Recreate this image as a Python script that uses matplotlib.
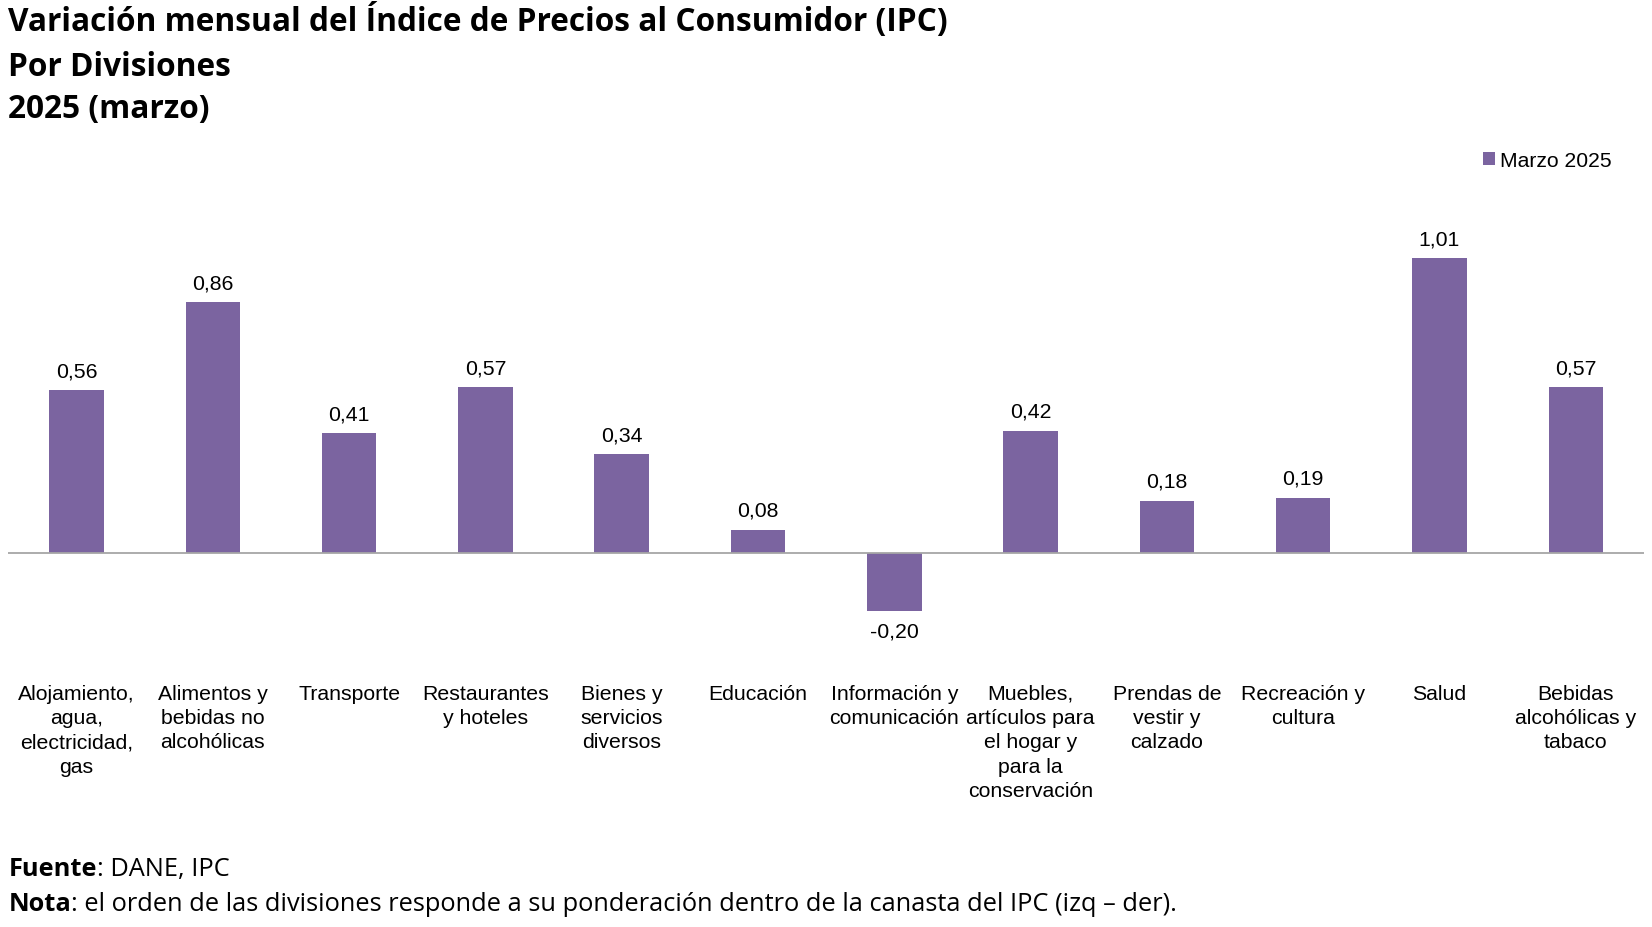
import matplotlib.pyplot as plt
from matplotlib.patches import Patch

# Data
divisiones = [
    "Alojamiento,\nagua,\nelectricidad,\ngas",
    "Alimentos y\nbebidas no\nalcohólicas",
    "Transporte",
    "Restaurantes\ny hoteles",
    "Bienes y\nservicios\ndiversos",
    "Educación",
    "Información y\ncomunicación",
    "Muebles,\nartículos para\nel hogar y\npara la\nconservación",
    "Prendas de\nvestir y\ncalzado",
    "Recreación y\ncultura",
    "Salud",
    "Bebidas\nalcohólicas y\ntabaco",
]
variacion = [0.56, 0.86, 0.41, 0.57, 0.34, 0.08, -0.20, 0.42, 0.18, 0.19, 1.01, 0.57]
serie = "Marzo 2025"

bar_color = "#7B64A0"
label_font = "Liberation Sans"
title_font = "Open Sans"

fig = plt.figure(figsize=(16.52, 9.28), dpi=100)
ax = fig.add_axes([0.0051, 0.3087, 0.990, 0.5028])

x = list(range(len(divisiones)))
ax.bar(x, variacion, width=0.40, color=bar_color, zorder=2)

ax.set_xlim(-0.5, len(divisiones) - 0.5)
ax.set_ylim(-0.3, 1.3)
ax.axhline(0, color="#A6A6A6", linewidth=1.3, zorder=3)

for spine in ax.spines.values():
    spine.set_visible(False)
ax.set_yticks([])
ax.set_xticks(x)
ax.set_xticklabels(divisiones, fontsize=15.3, family=label_font,
                   linespacing=1.36, va="top")
ax.tick_params(axis="x", length=0, pad=31)

# Value labels
for xi, v in zip(x, variacion):
    txt = f"{v:.2f}".replace(".", ",")
    if v >= 0:
        ax.annotate(txt, (xi, v), xytext=(0, 7), textcoords="offset points",
                    ha="center", va="bottom", fontsize=15.3, family=label_font)
    else:
        ax.annotate(txt, (xi, v), xytext=(0, -7.5), textcoords="offset points",
                    ha="center", va="top", fontsize=15.3, family=label_font)

# Legend
handle = Patch(facecolor=bar_color, edgecolor="none")
fig.legend([handle], [serie], loc="center right", bbox_to_anchor=(0.987, 0.826),
           frameon=False, prop={"family": label_font, "size": 15.2},
           handlelength=0.55, handleheight=0.55, handletextpad=0.25)

# Titles
for y, line in zip([0.977, 0.9275, 0.8815],
                   ["Variación mensual del Índice de Precios al Consumidor (IPC)",
                    "Por Divisiones", "2025 (marzo)"]):
    fig.text(0.005, y, line, fontsize=22.8, fontweight="bold",
             family=title_font, va="center")

# Footer
fig.canvas.draw()
r = fig.canvas.get_renderer()
for y, bold, rest in [(0.063, "Fuente", ": DANE, IPC"),
                      (0.025, "Nota", ": el orden de las divisiones responde a su ponderación "
                                      "dentro de la canasta del IPC (izq – der).")]:
    t = fig.text(0.005, y, bold, fontsize=18.3, fontweight="bold",
                 family=title_font, va="center")
    bb = t.get_window_extent(r)
    fig.text(bb.x1 / fig.bbox.width, y, rest, fontsize=18.3,
             family=title_font, va="center")

fig.savefig("out.png", dpi=100)
